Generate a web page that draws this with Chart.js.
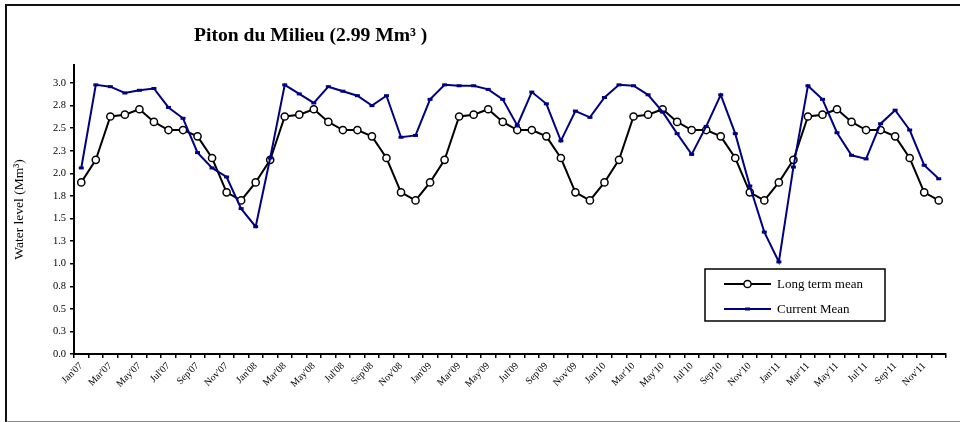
<!DOCTYPE html>
<html>
<head>
<meta charset="utf-8">
<title>Piton du Milieu</title>
<script src="https://cdn.jsdelivr.net/npm/chart.js@4.4.1/dist/chart.umd.min.js"></script>
<style>
  html, body { margin: 0; padding: 0; background: #fff; }
  #wrap { position: relative; width: 960px; height: 422px; overflow: hidden; }
  #frame {
    position: absolute; left: 5px; top: 4px; width: 1000px; height: 415px;
    border-left: 2px solid #111; border-top: 2px solid #111; border-bottom: 2px solid #8a8a8a;
  }
  #chart { position: absolute; left: 0; top: 0; }
</style>
</head>
<body>
<div id="wrap">
  <div id="frame"></div>
  <canvas id="chart" width="960" height="422"></canvas>
</div>
<script>
const months = [
  "Jan'07", "Feb'07", "Mar'07", "Apr'07", "May'07", "Jun'07", "Jul'07", "Aug'07", "Sep'07", "Oct'07", "Nov'07", "Dec'07",
  "Jan'08", "Feb'08", "Mar'08", "Apr'08", "May'08", "Jun'08", "Jul'08", "Aug'08", "Sep'08", "Oct'08", "Nov'08", "Dec'08",
  "Jan'09", "Feb'09", "Mar'09", "Apr'09", "May'09", "Jun'09", "Jul'09", "Aug'09", "Sep'09", "Oct'09", "Nov'09", "Dec'09",
  "Jan'10", "Feb'10", "Mar'10", "Apr'10", "May'10", "Jun'10", "Jul'10", "Aug'10", "Sep'10", "Oct'10", "Nov'10", "Dec'10",
  "Jan'11", "Feb'11", "Mar'11", "Apr'11", "May'11", "Jun'11", "Jul'11", "Aug'11", "Sep'11", "Oct'11", "Nov'11", "Dec'11",
];

// labels actually printed under the axis (every other month)
const xTickLabels = [
  "Jan'07", "Mar'07", "May'07", "Jul'07", "Sep'07", "Nov'07",
  "Jan'08", "Mar'08", "May'08", "Jul'08", "Sep'08", "Nov'08",
  "Jan'09", "Mar'09", "May'09", "Jul'09", "Sep'09", "Nov'09",
  "Jan'10", "Mar'10", "May'10", "Jul'10", "Sep'10", "Nov'10",
  "Jan'11", "Mar'11", "May'11", "Jul'11", "Sep'11", "Nov'11",
];

const yTickValues = [0, 0.25, 0.5, 0.75, 1.0, 1.25, 1.5, 1.75, 2.0, 2.25, 2.5, 2.75, 3.0];

const longTermMean = [
  1.90, 2.15, 2.63, 2.65, 2.71, 2.57, 2.48, 2.48, 2.41, 2.17, 1.79, 1.70,
  1.90, 2.15, 2.63, 2.65, 2.71, 2.57, 2.48, 2.48, 2.41, 2.17, 1.79, 1.70,
  1.90, 2.15, 2.63, 2.65, 2.71, 2.57, 2.48, 2.48, 2.41, 2.17, 1.79, 1.70,
  1.90, 2.15, 2.63, 2.65, 2.71, 2.57, 2.48, 2.48, 2.41, 2.17, 1.79, 1.70,
  1.90, 2.15, 2.63, 2.65, 2.71, 2.57, 2.48, 2.48, 2.41, 2.17, 1.79, 1.70,
];

const currentMean = [
  2.06, 2.98, 2.96, 2.89, 2.92, 2.94, 2.73, 2.61, 2.23, 2.06, 1.96, 1.61,
  1.41, 2.17, 2.98, 2.88, 2.78, 2.96, 2.91, 2.86, 2.75, 2.86, 2.40, 2.42,
  2.82, 2.98, 2.97, 2.97, 2.93, 2.82, 2.53, 2.90, 2.77, 2.36, 2.69, 2.62,
  2.84, 2.98, 2.97, 2.87, 2.68, 2.44, 2.21, 2.52, 2.87, 2.44, 1.86, 1.35,
  1.02, 2.07, 2.97, 2.82, 2.45, 2.20, 2.16, 2.55, 2.70, 2.48, 2.09, 1.94,
];

const SERIF = '"Liberation Serif", "Times New Roman", serif';

// title sits over the left half of the plot, not centred on it
const chartTitle = {
  id: 'chartTitle',
  afterDraw(chart, args, opts) {
    const ctx = chart.ctx;
    ctx.save();
    ctx.fillStyle = '#000';
    ctx.font = `bold ${opts.size}px ${SERIF}`;
    ctx.textAlign = 'left';
    ctx.textBaseline = 'alphabetic';
    ctx.fillText(opts.text, opts.x, opts.y);
    ctx.restore();
  },
};

// boxed legend inside the plot, lower right
const boxLegend = {
  id: 'boxLegend',
  afterDraw(chart, args, opts) {
    const ctx = chart.ctx;
    const { left, top, width, height } = opts;
    ctx.save();
    ctx.fillStyle = '#fff';
    ctx.fillRect(left, top, width, height);
    ctx.lineWidth = 1.5;
    ctx.strokeStyle = '#000';
    ctx.strokeRect(left, top, width, height);

    chart.data.datasets.forEach((ds, i) => {
      const y = top + 15 + i * 25;
      const x0 = left + 19;
      const x1 = left + 66;
      const xm = (x0 + x1) / 2;
      ctx.strokeStyle = ds.borderColor;
      ctx.lineWidth = ds.borderWidth;
      ctx.beginPath();
      ctx.moveTo(x0, y);
      ctx.lineTo(x1, y);
      ctx.stroke();

      ctx.lineWidth = ds.pointBorderWidth;
      ctx.strokeStyle = ds.pointBorderColor;
      ctx.fillStyle = ds.pointBackgroundColor;
      ctx.beginPath();
      if (ds.pointStyle === 'circle') {
        ctx.arc(xm, y, ds.pointRadius, 0, Math.PI * 2);
        ctx.fill();
        ctx.stroke();
      } else {
        ctx.moveTo(xm - ds.pointRadius, y);
        ctx.lineTo(xm + ds.pointRadius, y);
        ctx.stroke();
      }

      ctx.fillStyle = '#000';
      ctx.font = `${opts.fontSize}px ${SERIF}`;
      ctx.textAlign = 'left';
      ctx.textBaseline = 'middle';
      ctx.fillText(ds.label, x1 + 6, y + 1);
    });
    ctx.restore();
  },
};

new Chart(document.getElementById('chart'), {
  type: 'line',
  data: {
    labels: months,
    datasets: [
      {
        label: 'Long term mean',
        data: longTermMean,
        borderColor: '#000',
        borderWidth: 2,
        pointStyle: 'circle',
        pointRadius: 3.6,
        pointBorderWidth: 1.5,
        pointBorderColor: '#000',
        pointBackgroundColor: '#fff',
        tension: 0,
        order: 1,
      },
      {
        label: 'Current Mean',
        data: currentMean,
        borderColor: '#000080',
        borderWidth: 2,
        pointStyle: 'line',
        pointRadius: 2.5,
        pointBorderWidth: 3,
        pointBorderColor: '#000080',
        pointBackgroundColor: '#000080',
        tension: 0,
        order: 0,
      },
    ],
  },
  options: {
    responsive: false,
    animation: false,
    devicePixelRatio: 1,
    layout: { padding: { top: 65, right: 14, left: 0, bottom: 0 } },
    plugins: {
      legend: { display: false },
      tooltip: { enabled: false },
      chartTitle: { text: 'Piton du Milieu (2.99 Mm³ )', x: 194, y: 41, size: 19.6 },
      boxLegend: { left: 705, top: 269, width: 180, height: 52, fontSize: 13 },
    },
    scales: {
      x: {
        offset: true,
        afterFit: (scale) => { scale.height = 68; },
        grid: { offset: true, drawOnChartArea: false, tickLength: 4, color: '#000', lineWidth: 1.5 },
        border: { color: '#000', width: 2 },
        ticks: {
          autoSkip: false,
          maxRotation: 45,
          minRotation: 45,
          padding: 2,
          color: '#000',
          font: { family: SERIF, size: 10 },
          callback(value) {
            const lab = this.getLabelForValue(value);
            return xTickLabels.includes(lab) ? lab : '';
          },
        },
      },
      y: {
        min: 0,
        max: 3.2,
        afterFit: (scale) => { scale.width = 74; },
        afterBuildTicks: (scale) => { scale.ticks = yTickValues.map((v) => ({ value: v })); },
        grid: { drawOnChartArea: false, tickLength: 4, color: '#000', lineWidth: 1.5 },
        border: { color: '#000', width: 2 },
        ticks: {
          padding: 4,
          color: '#000',
          font: { family: SERIF, size: 10.5 },
          callback: (v) => Number(v).toFixed(1),
        },
        title: {
          display: true,
          text: 'Water level (Mm³)',
          color: '#000',
          font: { family: SERIF, size: 13.5 },
          padding: { top: 11, bottom: 0 },
        },
      },
    },
  },
  plugins: [chartTitle, boxLegend],
});
</script>
</body>
</html>
